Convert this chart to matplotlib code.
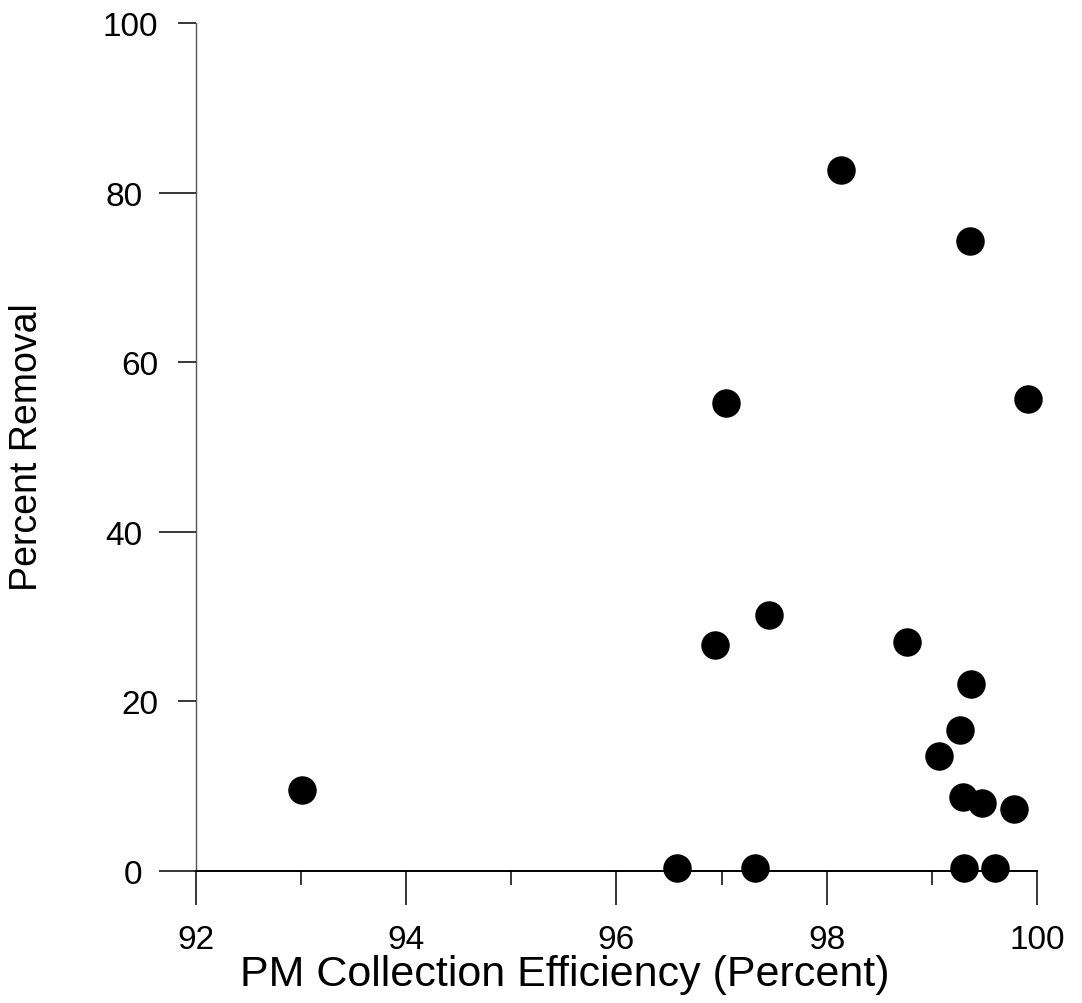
import matplotlib.pyplot as plt

plt.rcParams['font.family'] = ['Liberation Sans', 'DejaVu Sans']

# PM collection efficiency (x) vs percent removal (y)
efficiency = [98.14, 99.36, 97.04, 99.91, 97.45, 96.94, 98.76, 99.37, 99.27,
              99.07, 99.30, 99.48, 99.78, 93.01, 96.58, 97.32, 99.31, 99.60]
removal = [82.7, 74.3, 55.2, 55.7, 30.2, 26.6, 27.0, 22.0, 16.6,
           13.6, 8.7, 8.0, 7.3, 9.6, 0.4, 0.4, 0.4, 0.4]

x_major = [92, 94, 96, 98, 100]
x_minor = [93, 95, 97, 99]
y_long = [0, 40, 80]
y_short = [20, 60, 100]

fig = plt.figure(figsize=(10.82, 10.04), dpi=100)
ax = fig.add_axes([0.1811, 0.1315, 0.7773, 0.8446])

ax.plot(efficiency, removal, 'o', color='black', markersize=19.5,
        clip_on=False, zorder=5)

ax.set_xlim(92, 100)
ax.set_ylim(0, 100)

ax.spines['top'].set_visible(False)
ax.spines['right'].set_visible(False)
ax.spines['bottom'].set_linewidth(1.4)
ax.spines['left'].set_linewidth(1.0)
ax.spines['left'].set_color('#555555')

ax.set_xticks(x_major, labels=[str(v) for v in x_major])
ax.set_xticks(x_minor, minor=True)
ax.tick_params(axis='x', which='major', direction='out', length=24.5,
               width=1.1, pad=14, labelsize=24)
ax.tick_params(axis='x', which='minor', direction='out', length=10,
               width=1.1)

ax.set_yticks(y_long, labels=[str(v) for v in y_long])
ax.set_yticks(y_short, labels=[str(v) for v in y_short], minor=True)
ax.tick_params(axis='y', which='major', direction='out', length=26.5,
               width=1.1, pad=12, labelsize=24)
ax.tick_params(axis='y', which='minor', direction='out', length=13,
               width=1.1, pad=14, labelsize=24)

fig.text(0.522, 0.0175, 'PM Collection Efficiency (Percent)', fontsize=31,
         ha='center', va='baseline')
fig.text(0.025, 0.555, 'Percent Removal', fontsize=27, rotation=90,
         ha='center', va='center')

fig.savefig('out.png', dpi=100)
